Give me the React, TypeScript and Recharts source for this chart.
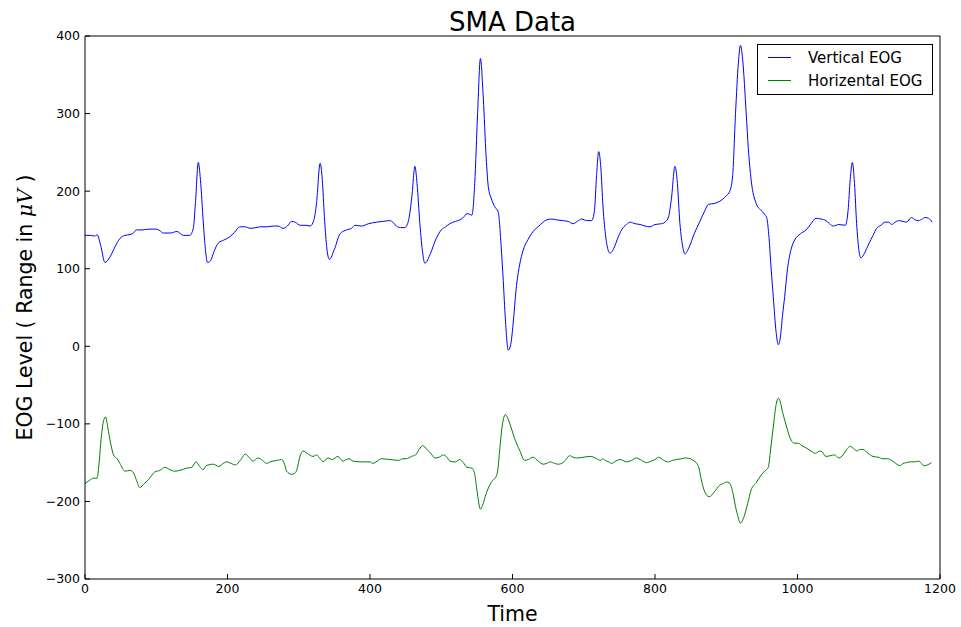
import React from 'react';
import { LineChart, Line, XAxis, YAxis, Legend } from 'recharts';

const FONT = '"DejaVu Sans", sans-serif';

// [time, level] pairs
const verticalEog: [number, number][] = [
  [0, 143], [8, 143], [14, 142], [17, 144], [22, 130], [28, 108], [35, 115], [42, 128], [49, 139], [56, 143],
  [63, 144], [68, 146], [72, 150], [80, 150], [90, 151], [100, 151], [105, 149], [110, 146], [120, 146], [129, 148],
  [138, 143], [147, 143], [152, 152], [155, 185], [159, 237], [162, 215], [166, 160], [169, 125], [172, 108], [176, 110],
  [181, 122], [187, 133], [195, 137], [203, 141], [210, 147], [217, 154], [225, 154], [232, 152], [240, 153], [246, 154],
  [255, 154], [264, 155], [271, 155], [278, 152], [284, 155], [290, 161], [295, 160], [302, 156], [310, 156], [316, 155],
  [321, 162], [325, 185], [330, 236], [333, 215], [336, 167], [339, 130], [343, 112], [350, 125], [358, 145], [367, 150],
  [374, 152], [379, 156], [388, 155], [398, 158], [409, 160], [418, 161], [428, 162], [432, 160], [437, 155], [443, 153],
  [449, 153], [454, 162], [459, 195], [463, 232], [466, 210], [470, 158], [474, 120], [477, 107], [485, 120], [492, 137],
  [500, 150], [506, 154], [512, 158], [520, 161], [526, 163], [531, 166], [536, 171], [540, 170], [543, 169], [547, 210],
  [551, 300], [555, 371], [559, 320], [563, 244], [566, 206], [570, 191], [575, 180], [580, 173], [584, 130], [587, 85],
  [590, 35], [594, -5], [597, 0], [601, 30], [605, 73], [610, 105], [615, 124], [622, 138], [629, 148], [637, 155],
  [648, 163], [655, 164], [662, 163], [670, 162], [678, 161], [685, 158], [691, 161], [697, 164], [704, 162], [711, 162],
  [715, 175], [718, 220], [721, 251], [724, 230], [727, 180], [731, 140], [735, 122], [737, 120], [743, 128], [748, 140],
  [753, 150], [760, 157], [765, 160], [772, 158], [779, 157], [786, 155], [793, 154], [800, 157], [809, 158], [814, 160],
  [819, 167], [823, 190], [828, 232], [831, 215], [835, 158], [839, 128], [842, 119], [848, 128], [855, 145], [863, 161],
  [870, 175], [875, 183], [883, 184], [891, 187], [900, 194], [905, 200], [909, 220], [913, 300], [917, 365], [920, 388],
  [923, 370], [928, 300], [931, 255], [935, 214], [942, 184], [948, 176], [954, 170], [957, 165], [960, 140], [963, 100],
  [966, 64], [970, 18], [973, 2], [976, 12], [979, 40], [982, 64], [986, 100], [991, 125], [996, 137], [1004, 145],
  [1012, 150], [1019, 158], [1026, 165], [1033, 164], [1040, 162], [1045, 158], [1050, 155], [1058, 157], [1067, 156], [1071, 175],
  [1074, 215], [1077, 237], [1080, 210], [1083, 158], [1086, 125], [1089, 114], [1094, 120], [1100, 132], [1106, 143], [1111, 152],
  [1117, 156], [1123, 160], [1128, 160], [1132, 157], [1137, 160], [1142, 162], [1148, 161], [1153, 160], [1160, 166], [1165, 163],
  [1170, 162], [1175, 164], [1179, 166], [1184, 165], [1189, 160],
];

const horizontalEog: [number, number][] = [
  [0, -177], [6, -173], [12, -170], [17, -170], [20, -148], [23, -116], [26, -96], [29, -91], [32, -105], [36, -125],
  [40, -140], [45, -145], [49, -151], [56, -161], [63, -160], [68, -163], [72, -172], [77, -182], [83, -177], [89, -172],
  [94, -166], [98, -162], [105, -160], [112, -156], [119, -159], [126, -161], [133, -160], [143, -157], [150, -156], [156, -149],
  [161, -155], [166, -159], [170, -154], [180, -152], [188, -155], [194, -151], [199, -149], [205, -151], [211, -153], [218, -147],
  [225, -139], [230, -143], [236, -148], [243, -144], [249, -147], [255, -151], [260, -149], [264, -148], [270, -147], [276, -146],
  [280, -152], [283, -161], [290, -165], [294, -164], [297, -160], [302, -141], [306, -135], [312, -138], [320, -142], [325, -140],
  [330, -145], [334, -149], [341, -144], [347, -146], [355, -142], [362, -148], [367, -146], [371, -145], [376, -148], [388, -149],
  [400, -149], [404, -151], [410, -148], [416, -145], [428, -146], [440, -147], [446, -145], [451, -145], [458, -142], [464, -140],
  [469, -133], [474, -128], [480, -133], [486, -139], [491, -144], [497, -143], [503, -140], [508, -143], [512, -148], [520, -149],
  [526, -146], [531, -150], [536, -156], [543, -157], [547, -165], [550, -185], [555, -210], [558, -205], [563, -190], [568, -179],
  [572, -173], [577, -168], [580, -155], [582, -134], [586, -100], [590, -88], [593, -92], [596, -99], [603, -119], [610, -134],
  [617, -147], [622, -146], [629, -143], [636, -148], [643, -152], [648, -151], [653, -149], [659, -151], [664, -152], [671, -150],
  [675, -146], [680, -141], [685, -143], [690, -144], [700, -143], [709, -142], [714, -143], [718, -145], [723, -147], [727, -145],
  [730, -147], [735, -149], [739, -151], [745, -148], [751, -146], [760, -149], [767, -147], [774, -144], [781, -147], [788, -150],
  [795, -148], [800, -146], [805, -143], [812, -147], [819, -149], [825, -147], [830, -146], [837, -145], [843, -144], [850, -145],
  [855, -148], [858, -150], [862, -158], [865, -172], [870, -188], [876, -194], [883, -188], [891, -179], [896, -177], [900, -175],
  [904, -176], [907, -181], [910, -192], [912, -202], [916, -218], [920, -228], [924, -222], [930, -203], [935, -185], [942, -176],
  [949, -166], [955, -160], [959, -156], [962, -135], [966, -104], [970, -75], [973, -67], [976, -72], [979, -85], [982, -95],
  [986, -108], [991, -121], [996, -125], [1001, -125], [1006, -128], [1012, -131], [1019, -135], [1025, -138], [1029, -136], [1033, -135],
  [1040, -142], [1046, -141], [1052, -140], [1058, -144], [1064, -140], [1069, -133], [1074, -129], [1079, -132], [1083, -135], [1088, -133],
  [1092, -133], [1099, -138], [1106, -142], [1113, -143], [1120, -145], [1126, -145], [1132, -147], [1138, -151], [1144, -154], [1148, -151],
  [1153, -150], [1158, -149], [1164, -149], [1170, -148], [1174, -151], [1177, -154], [1182, -153], [1188, -150],
];

const timeTicks = [0, 200, 400, 600, 800, 1000, 1200];
const levelTicks = [-300, -200, -100, 0, 100, 200, 300, 400];

const series = [
  { name: 'Vertical EOG', color: '#0000ff', points: verticalEog },
  { name: 'Horizental EOG', color: '#008000', points: horizontalEog },
];

const fmtLevel = (v: number) => (v < 0 ? '\u2212' + Math.abs(v) : String(v));

const TitleLabel = (props: any) => {
  const vb = props.viewBox || { x: 85, width: 855 };
  return (
    <text x={vb.x + vb.width / 2} y={31} textAnchor="middle" fontFamily={FONT} fontSize={26} fill="#000">
      SMA Data
    </text>
  );
};

const TimeLabel = (props: any) => {
  const vb = props.viewBox || { x: 85, width: 855 };
  return (
    <text x={vb.x + vb.width / 2} y={621} textAnchor="middle" fontFamily={FONT} fontSize={20.5} fill="#000">
      Time
    </text>
  );
};

const LevelLabel = (props: any) => {
  const vb = props.viewBox || { y: 36, height: 543 };
  const cx = 25;
  const cy = vb.y + vb.height / 2;
  return (
    <text
      x={cx}
      y={cy}
      transform={`rotate(-90, ${cx}, ${cy})`}
      textAnchor="middle"
      dominantBaseline="central"
      fontFamily={FONT}
      fontSize={20.5}
      fill="#000"
    >
      EOG Level ( Range in{' '}
      <tspan fontFamily='"DejaVu Serif", serif' fontStyle="italic">μV</tspan> )
    </text>
  );
};

const LegendBox = () => (
  <div
    style={{
      position: 'relative',
      width: 174,
      height: 49,
      border: '1px solid #000',
      background: '#fff',
      fontFamily: FONT,
      fontSize: 15,
    }}
  >
    {series.map((s, i) => (
      <div key={s.name} style={{ position: 'absolute', left: 0, top: 3 + i * 23, height: 20, width: 174 }}>
        <div style={{ position: 'absolute', left: 10, top: 9, width: 23, height: 1, background: s.color }} />
        <div style={{ position: 'absolute', left: 50, top: 0, lineHeight: '20px', whiteSpace: 'nowrap', color: '#000' }}>
          {s.name}
        </div>
      </div>
    ))}
  </div>
);

export default function App() {
  const tickStyle = { fill: '#000', fontSize: 12.5, fontFamily: FONT };
  return (
    <div style={{ position: 'absolute', left: 0, top: 0, width: 961, height: 627, background: '#fff' }}>
      <LineChart width={961} height={627} margin={{ top: 35, right: 20, bottom: 0, left: 0 }}>
        <XAxis
          xAxisId="bottom"
          dataKey="t"
          type="number"
          domain={[0, 1200]}
          ticks={timeTicks}
          height={48}
          tickSize={-5}
          tickMargin={10}
          stroke="#000"
          tick={tickStyle}
          label={{ content: TimeLabel }}
          allowDataOverflow
        />
        <XAxis
          xAxisId="top"
          orientation="top"
          dataKey="t"
          type="number"
          domain={[0, 1200]}
          ticks={timeTicks}
          height={1}
          tickSize={-5}
          tick={false}
          stroke="#000"
          label={{ content: TitleLabel }}
        />
        <YAxis
          yAxisId="left"
          type="number"
          domain={[-300, 400]}
          ticks={levelTicks}
          width={85}
          tickSize={-5}
          tickMargin={10}
          stroke="#000"
          tick={tickStyle}
          tickFormatter={fmtLevel}
          label={{ content: LevelLabel }}
          allowDataOverflow
        />
        <YAxis
          yAxisId="right"
          orientation="right"
          type="number"
          domain={[-300, 400]}
          ticks={levelTicks}
          width={1}
          tickSize={-5}
          tick={false}
          stroke="#000"
        />
        <Legend
          layout="vertical"
          align="center"
          verticalAlign="middle"
          content={LegendBox}
          wrapperStyle={{ left: 757, top: 44, width: 176, height: 51 }}
        />
        {series.map((s) => (
          <Line
            key={s.name}
            xAxisId="bottom"
            yAxisId="left"
            name={s.name}
            data={s.points.map(([t, v]) => ({ t, v }))}
            dataKey="v"
            type="monotone"
            stroke={s.color}
            strokeWidth={1}
            dot={false}
            activeDot={false}
            isAnimationActive={false}
          />
        ))}
      </LineChart>
    </div>
  );
}
